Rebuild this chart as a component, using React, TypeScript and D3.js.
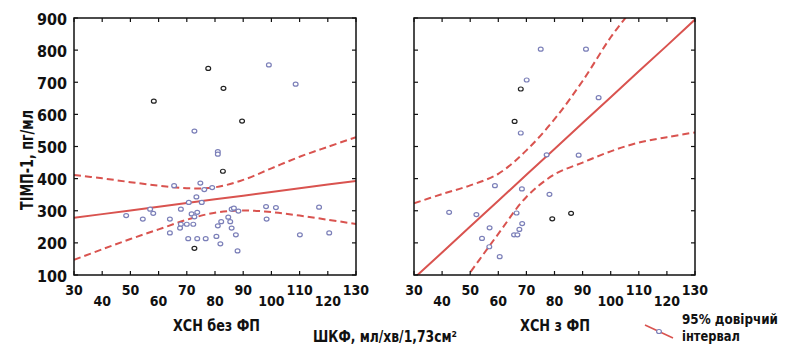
import React from "react";
import * as d3 from "d3";

const X_TICKS = [30, 40, 50, 60, 70, 80, 90, 100, 110, 120, 130];
const Y_TICKS = [100, 200, 300, 400, 500, 600, 700, 800, 900];

const LEFT_BLUE: [number, number][] = [
  [99.1, 754], [108.6, 694], [72.7, 548], [81, 484], [81, 476], [65.5, 378], [74.8, 386],
  [76.2, 366], [79, 372], [73.4, 343], [70.7, 326], [75.3, 326], [67.9, 305], [57, 305],
  [58.1, 292], [48.5, 285], [54.4, 274], [64, 274], [71.7, 290], [73.7, 295], [72.7, 281],
  [67.9, 258], [70, 258], [72.3, 258], [67.6, 246], [64, 231], [70.5, 213], [73.7, 213],
  [76.7, 213], [80.5, 220], [81.9, 197], [81, 253], [82.2, 266], [84.7, 280], [85.4, 266],
  [85.9, 246], [85.9, 305], [86.7, 308], [87.4, 225], [88.3, 299], [88, 175], [98.1, 313],
  [101.6, 310], [98.3, 274], [110.1, 225], [116.9, 311], [120.5, 231],
];
const LEFT_BLACK: [number, number][] = [
  [77.6, 743], [83, 681], [58.3, 641], [89.6, 579], [72.7, 183], [82.8, 423],
];

const RIGHT_BLUE: [number, number][] = [
  [75.1, 803], [91.2, 803], [70.1, 707], [95.7, 652], [68, 542], [77.2, 474], [88.6, 473],
  [58.8, 378], [68.4, 368], [78.2, 351], [42.5, 295], [52.2, 288], [66.5, 293], [68.5, 260],
  [56.9, 247], [67.5, 242], [65.6, 225], [66.8, 225], [54.2, 214], [56.8, 188], [60.5, 157],
];
const RIGHT_BLACK: [number, number][] = [
  [68, 679], [65.8, 578], [79.2, 275], [85.9, 292],
];

const CI_X = [30, 40, 50, 60, 70, 80, 90, 100, 110, 120, 130];
const LEFT_FIT = [278, 289.5, 301, 312.5, 324, 335.5, 347, 358.5, 370, 381.5, 393];
const LEFT_UPPER = [411, 401, 389, 378, 370, 373, 396, 432, 468, 499, 529];
const LEFT_LOWER = [147, 180, 212, 242, 272, 294, 301, 296, 285, 272, 259];
const RIGHT_FIT = [90, 170, 251, 331, 412, 492, 573, 653, 734, 814, 895];
const RIGHT_UPPER = [323, 352, 379, 415, 488, 585, 704, 840, 956, 1099, 1246];
const RIGHT_LOWER = [-143, -12, 108, 228, 343, 413, 450, 485, 512, 529, 544];

const FONT = "'DejaVu Sans Condensed', 'DejaVu Sans', sans-serif";
const RED = "#d9534f";
const BLUE = "#7b7fb8";
const TOP = 18;
const BOTTOM = 275;

type PanelProps = {
  id: string;
  x0: number;
  x1: number;
  blue: [number, number][];
  black: [number, number][];
  fit: number[];
  upper: number[];
  lower: number[];
  yLabels: boolean;
  title: string;
  titleX: number;
  titleLen: number;
};

function Panel(p: PanelProps) {
  const x = d3.scaleLinear().domain([30, 130]).range([p.x0, p.x1]);
  const y = d3.scaleLinear().domain([100, 900]).range([BOTTOM, TOP]);
  const line = d3
    .line<number>()
    .x((_, i) => x(CI_X[i]))
    .y((d) => y(d))
    .curve(d3.curveCatmullRom);
  const fitLine = d3
    .line<number>()
    .x((_, i) => x(CI_X[i]))
    .y((d) => y(d));
  const tl = 4;
  return (
    <g>
      <defs>
        <clipPath id={p.id}>
          <rect x={p.x0} y={TOP} width={p.x1 - p.x0} height={BOTTOM - TOP} />
        </clipPath>
      </defs>
      <g clipPath={`url(#${p.id})`}>
        <path d={line(p.upper) || ""} fill="none" stroke={RED} strokeWidth={2} strokeDasharray="7,4" />
        <path d={line(p.lower) || ""} fill="none" stroke={RED} strokeWidth={2} strokeDasharray="7,4" />
        <path d={fitLine(p.fit) || ""} fill="none" stroke={RED} strokeWidth={2} />
      </g>
      {p.blue.map((d, i) => (
        <ellipse key={"b" + i} cx={x(d[0])} cy={y(d[1])} rx={2.4} ry={2} fill="white" stroke={BLUE} strokeWidth={1.2} />
      ))}
      {p.black.map((d, i) => (
        <ellipse key={"k" + i} cx={x(d[0])} cy={y(d[1])} rx={2.4} ry={2} fill="white" stroke="#222" strokeWidth={1.2} />
      ))}
      <rect x={p.x0} y={TOP} width={p.x1 - p.x0} height={BOTTOM - TOP} fill="none" stroke="#111" strokeWidth={1.5} />
      {X_TICKS.map((t) => (
        <g key={"xt" + t}>
          <line x1={x(t)} x2={x(t)} y1={BOTTOM} y2={BOTTOM - tl} stroke="#111" strokeWidth={1.2} />
          <line x1={x(t)} x2={x(t)} y1={TOP} y2={TOP + tl} stroke="#111" strokeWidth={1.2} />
        </g>
      ))}
      {Y_TICKS.map((t) => (
        <g key={"yt" + t}>
          <line x1={p.x0} x2={p.x0 + tl} y1={y(t)} y2={y(t)} stroke="#111" strokeWidth={1.2} />
          <line x1={p.x1} x2={p.x1 - tl} y1={y(t)} y2={y(t)} stroke="#111" strokeWidth={1.2} />
        </g>
      ))}
      {X_TICKS.map((t, i) => (
        <text
          key={"xl" + t}
          x={x(t)}
          y={i % 2 === 0 ? 295 : 306}
          textAnchor="middle"
          fontFamily={FONT}
          fontWeight="bold"
          fontSize={14}
          fill="#111"
        >
          {t}
        </text>
      ))}
      {p.yLabels &&
        Y_TICKS.map((t) => (
          <text
            key={"yl" + t}
            x={p.x0 - 7}
            y={y(t) + 6.5}
            textAnchor="end"
            fontFamily={FONT}
            fontWeight="bold"
            fontSize={16}
            fill="#111"
          >
            {t}
          </text>
        ))}
      <text
        x={p.titleX}
        y={330.5}
        fontFamily={FONT}
        fontWeight="bold"
        fontSize={16}
        fill="#111"
        textLength={p.titleLen}
        lengthAdjust="spacingAndGlyphs"
      >
        {p.title}
      </text>
    </g>
  );
}

export default function App() {
  return (
    <svg width={789} height={345} style={{ position: "absolute", left: 0, top: 0, background: "white" }}>
      <Panel
        id="clipL"
        x0={74}
        x1={356}
        blue={LEFT_BLUE}
        black={LEFT_BLACK}
        fit={LEFT_FIT}
        upper={LEFT_UPPER}
        lower={LEFT_LOWER}
        yLabels={true}
        title="ХСН без ФП"
        titleX={173}
        titleLen={87}
      />
      <Panel
        id="clipR"
        x0={414}
        x1={695}
        blue={RIGHT_BLUE}
        black={RIGHT_BLACK}
        fit={RIGHT_FIT}
        upper={RIGHT_UPPER}
        lower={RIGHT_LOWER}
        yLabels={false}
        title="ХСН з ФП"
        titleX={520}
        titleLen={70}
      />
      <text
        transform="translate(33,210) rotate(-90)"
        fontFamily={FONT}
        fontWeight="bold"
        fontSize={17}
        fill="#111"
        textLength={100}
        lengthAdjust="spacingAndGlyphs"
      >
        ТІМП-1, пг/мл
      </text>
      <text
        x={313}
        y={341.5}
        fontFamily={FONT}
        fontWeight="bold"
        fontSize={15}
        fill="#111"
        textLength={144}
        lengthAdjust="spacingAndGlyphs"
      >
        ШКФ, мл/хв/1,73см²
      </text>
      <line x1={645} y1={325} x2={673} y2={338} stroke={RED} strokeWidth={1.6} />
      <ellipse cx={659} cy={331.5} rx={2.4} ry={2} fill="white" stroke={BLUE} strokeWidth={1.2} />
      <text
        x={682}
        y={323.5}
        fontFamily={FONT}
        fontWeight="bold"
        fontSize={14.5}
        fill="#111"
        textLength={96}
        lengthAdjust="spacingAndGlyphs"
      >
        95% довірчий
      </text>
      <text
        x={682}
        y={340.5}
        fontFamily={FONT}
        fontWeight="bold"
        fontSize={14.5}
        fill="#111"
        textLength={58}
        lengthAdjust="spacingAndGlyphs"
      >
        інтервал
      </text>
    </svg>
  );
}
